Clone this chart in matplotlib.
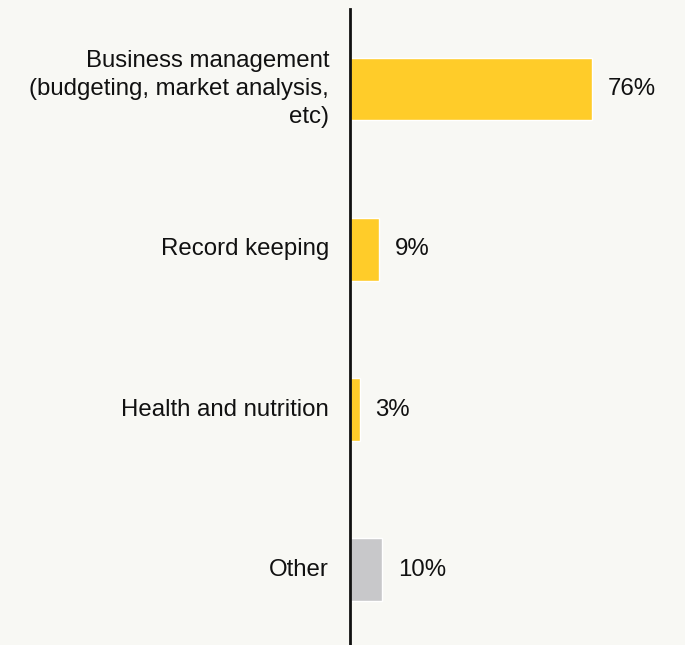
import matplotlib
matplotlib.use('Agg')
from matplotlib import pyplot as plt

categories = ["Business management\n(budgeting, market analysis,\netc)",
              "Record keeping", "Health and nutrition", "Other"]
shares = [76, 9, 3, 10]
bar_colors = ["#ffcc29", "#ffcc29", "#ffcc29", "#c8c8ca"]

bg = "#f8f8f4"
plt.rcParams['font.family'] = ['Liberation Sans', 'DejaVu Sans']

fig = plt.figure(figsize=(6.85, 6.45), dpi=100, facecolor=bg)
ax = fig.add_axes([350/685, 0, 335/685, 1 - 9/645])
ax.set_facecolor(bg)

ypos = list(range(len(categories)))
ax.barh(ypos, shares, height=0.39, color=bar_colors, edgecolor="white", linewidth=1)

for y, v in zip(ypos, shares):
    ax.annotate(f"{v}%", (v, y), xytext=(11.5, 0), textcoords="offset points",
                ha="left", va="center", fontsize=17.3, color="#111111")
# category labels to the left of the axis line
for y, c in zip(ypos, categories):
    ax.annotate(c, (0, y), xytext=(-15, 0), textcoords="offset points",
                ha="right", va="center", fontsize=17.3, color="#111111",
                multialignment="right", linespacing=1.35, annotation_clip=False)

ax.set_xlim(0, 335/3.184)
ax.set_ylim(3.47, -0.5)
for s in ["top", "right", "bottom"]:
    ax.spines[s].set_visible(False)
ax.spines["left"].set_linewidth(2)
ax.spines["left"].set_color("#111111")
ax.set_xticks([])
ax.set_yticks([])

fig.savefig("out.png", dpi=100, facecolor=bg)
